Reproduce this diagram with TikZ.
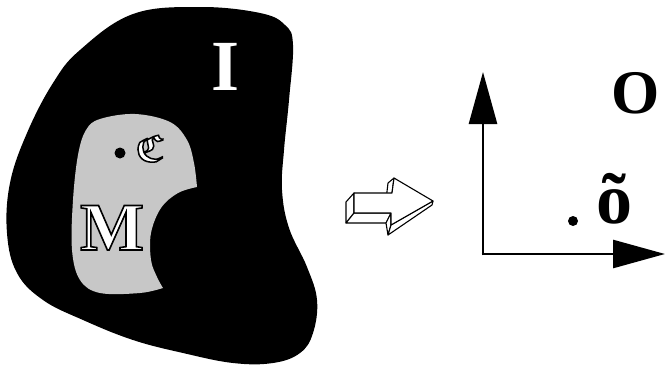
\documentclass[tikz,border=0pt]{standalone}
\usepackage{fontspec}
\setmainfont{Liberation Serif}
\usepackage{amsmath,amssymb}
\usepackage{graphicx}
\usetikzlibrary{arrows.meta}
\newcommand{\outl}[2]{\special{pdf:literal direct q 2 Tr #1 w 0 0 0 RG 1 1 1 rg}#2\special{pdf:literal direct Q}}
\tikzset{
  bigletter/.style={anchor=base,inner sep=0pt,text=white},
  outletter/.style={anchor=base,inner sep=0pt},
  face/.style={fill=white,draw=black,line width=1.1pt,line join=round},
  axis/.style={line width=2.6pt,-{Triangle[length=52pt,width=28pt]}}
}
\begin{document}
\begin{tikzpicture}[x=1pt,y=-1pt]
\useasboundingbox (0,0) rectangle (666,380);
% black region I
\fill[black] plot[smooth cycle,tension=0.65] coordinates {
 (80,50) (133,14) (200,7) (260,13) (285,25) (293,45) (289,100) (284,150)
 (282,190) (289,228) (307,267) (317,300) (313,333) (300,353) (273,363)
 (233,363) (183,353) (133,340) (83,320) (43,300) (17,273) (7,233)
 (10,183) (27,133) (53,83)};
% grey region M
\fill[black!22] plot[smooth,tension=0.6] coordinates {
 (163,288) (140,293) (100,293) (80,280) (72,250) (73,200) (78,155)
 (86,130) (100,119) (135,114) (170,122) (187,140) (194,163) (197,187)}
 -- plot[smooth,tension=0.6] coordinates {
 (197,187) (178,193) (161,208) (151,233) (151,260) (157,277) (163,288)} -- cycle;
% letters in the left region
\node[bigletter,font=\fontsize{72}{72}\bfseries\selectfont] (I) at (226,90) {I};
\node[outletter,font=\fontsize{68}{68}\bfseries\selectfont] (M) at (112,250) {\outl{1.6}{M}};
\node[outletter,font=\fontsize{20}{20}\selectfont] (C) at (149,161) {\scalebox{1.9}{\outl{0.8}{$\boldsymbol{\mathfrak{C}}$}}};
\fill[black] (120,153) circle (5.5) coordinate (cdot);
% hollow 3D arrow
\coordinate (A) at (354,193); \coordinate (B) at (392,193);
\coordinate (C) at (394,178); \coordinate (T) at (433,201);
\coordinate (D) at (391,225); \coordinate (E) at (391,213);
\coordinate (G) at (354,213);
\coordinate (A2) at (346,202); \coordinate (G2) at (346,223);
\coordinate (E2) at (386,223); \coordinate (D2) at (388,235);
\coordinate (T2) at (432,205); \coordinate (C2) at (388,183);
\coordinate (B2) at (386,200);
\filldraw[face] (A) -- (G) -- (G2) -- (A2) -- cycle;
\filldraw[face] (G) -- (E) -- (E2) -- (G2) -- cycle;
\filldraw[face] (E) -- (D) -- (D2) -- (E2) -- cycle;
\filldraw[face] (D) -- (T) -- (T2) -- (D2) -- cycle;
\filldraw[face] (B) -- (C) -- (C2) -- (B2) -- cycle;
\filldraw[face] (A) -- (B) -- (C) -- (T) -- (D) -- (E) -- (G) -- cycle;
% axes of O
\coordinate (orig) at (483,254);
\coordinate (ytip) at (483,72);
\coordinate (xtip) at (665,254);
\draw[axis] ([yshift=-1.3pt]orig) -- (ytip);
\draw[axis] ([xshift=-1.3pt]orig) -- (xtip);
\node[anchor=base,inner sep=0pt,font=\fontsize{62}{62}\bfseries\selectfont] (O) at (636,113) {O};
\node[anchor=base,inner sep=0pt,font=\fontsize{72}{72}\bfseries\selectfont] (otilde) at (614,223) {õ};
\fill[black] (573,221) circle (5) coordinate (odot);
\end{tikzpicture}
\end{document}
